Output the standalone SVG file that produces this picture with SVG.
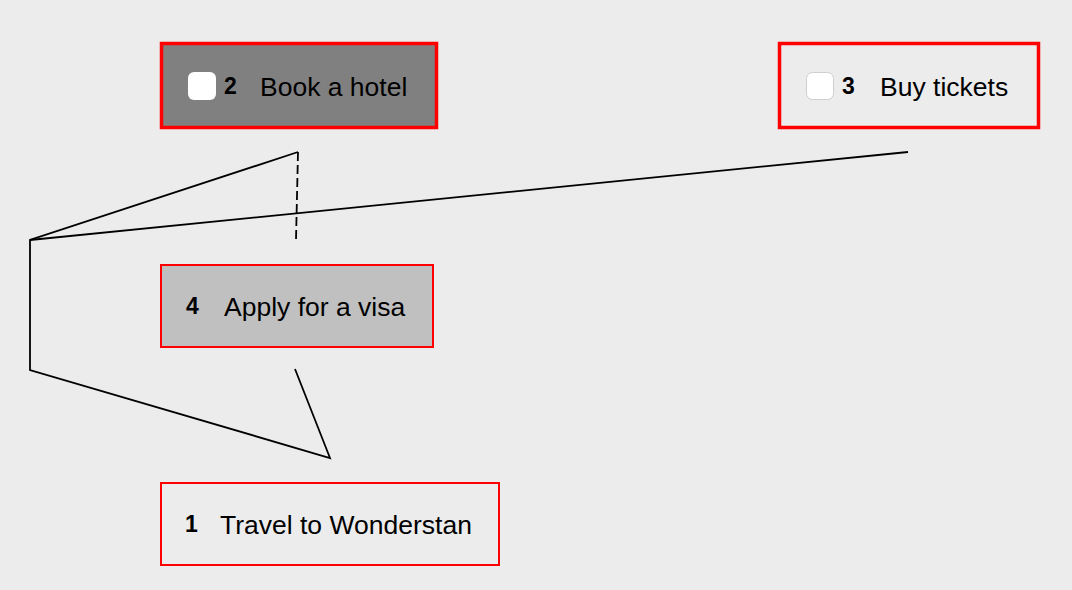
<svg xmlns="http://www.w3.org/2000/svg" width="1072" height="590" viewBox="0 0 1072 590">
<style>
.lbl{font-family:"Liberation Sans",Arial,sans-serif;font-size:26.5px;fill:#000}
.num{font-family:"Liberation Sans",Arial,sans-serif;font-size:23px;font-weight:bold;fill:#000}
.edge{fill:none;stroke:#000;stroke-width:1.8}
.dash{stroke-dasharray:9 4}
.cb{fill:#fff;stroke:#cfcfcf;stroke-width:1}
</style>
<rect x="0" y="0" width="1072" height="590" fill="#ececec"/>
<g id="connectors">
<path class="edge" d="M298,152 L30,240 L30,370 L330,458 L295,369"/>
<path class="edge" d="M908,152 L30,240"/>
<path class="edge dash" d="M298,152 L296,240"/>
</g>
<g id="node2">
<rect x="161.5" y="43.5" width="275" height="84" fill="#808080" stroke="#ff0000" stroke-width="3.5"/>
<rect x="188" y="72" width="28" height="28" rx="6" fill="#fff"/>
<text class="num" x="224" y="94">2</text>
<text class="lbl" x="260" y="96">Book a hotel</text>
</g>
<g id="node3">
<rect x="779.5" y="43.5" width="259" height="84" fill="#ececec" stroke="#ff0000" stroke-width="3.5"/>
<rect x="806.5" y="72.5" width="27" height="27" rx="6" class="cb"/>
<text class="num" x="842" y="94">3</text>
<text class="lbl" x="880" y="96">Buy tickets</text>
</g>
<g id="node4">
<rect x="161" y="265" width="272" height="82" fill="#c0c0c0" stroke="#ff0000" stroke-width="2"/>
<text class="num" x="186" y="314">4</text>
<text class="lbl" x="224" y="316">Apply for a visa</text>
</g>
<g id="node1">
<rect x="161" y="483" width="338" height="82" fill="#ececec" stroke="#ff0000" stroke-width="2"/>
<text class="num" x="185" y="532">1</text>
<text class="lbl" x="220" y="534">Travel to Wonderstan</text>
</g>
</svg>
